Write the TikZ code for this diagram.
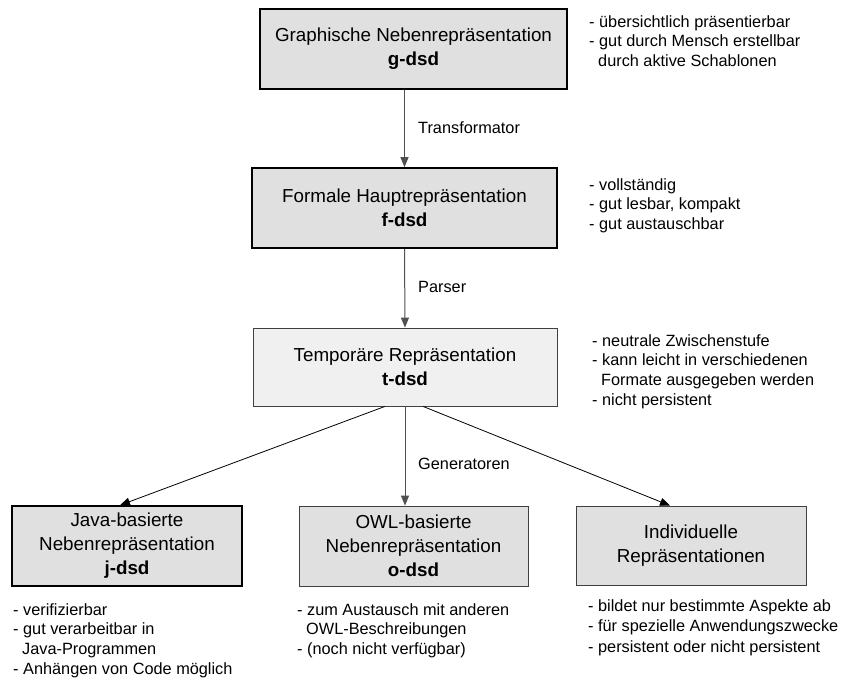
\documentclass[tikz,border=0pt]{standalone}
\usepackage{fontspec}
\setmainfont{Liberation Sans}
\usetikzlibrary{arrows.meta,calc}
\definecolor{boxfill}{HTML}{E0E0E0}
\definecolor{tfill}{HTML}{F0F0F0}
\definecolor{linegray}{HTML}{505050}
\begin{document}
\begin{tikzpicture}[x=1pt,y=-1pt,
  box/.style={draw, rectangle, fill=boxfill, align=center, inner sep=0pt,
    font=\fontsize{18.8}{24}\selectfont},
  thickbox/.style={box, line width=1.6pt, draw=black},
  thinbox/.style={box, line width=0.8pt, draw=black!75},
  note/.style={anchor=north west, align=left, inner sep=0pt,
    font=\fontsize{16.3}{19.8}\selectfont},
  lbl/.style={anchor=west, inner sep=0pt, font=\fontsize{16.3}{19.8}\selectfont},
  varrow/.style={draw=linegray, line width=1pt, -{Triangle[length=10pt,width=8pt]}},
  darrow/.style={draw=black, line width=0.8pt, -{Triangle[length=10pt,width=8pt]}}]
\useasboundingbox (0,0) rectangle (841,679);

\node[thickbox, minimum width=307, minimum height=80] (g) at (413.5,49)
  {Graphische Nebenrepräsentation\\\textbf{g-dsd}};
\node[thickbox, minimum width=305, minimum height=80] (f) at (404.5,208)
  {Formale Hauptrepräsentation\\\textbf{f-dsd}};
\node[thinbox, fill=tfill, minimum width=304, minimum height=78] (t) at (405,367)
  {Temporäre Repräsentation\\\textbf{t-dsd}};
\node[thickbox, minimum width=230, minimum height=80] (j) at (127,546)
  {Java-basierte\\Nebenrepräsentation\\\textbf{j-dsd}};
\node[thinbox, minimum width=229, minimum height=80] (o) at (413.5,546)
  {OWL-basierte\\Nebenrepräsentation\\\textbf{o-dsd}};
\node[thinbox, minimum width=230, minimum height=79] (ind) at (691,545.5)
  {Individuelle\\Repräsentationen};

\draw[varrow] (g.south -| f.north) -- (f.north);
\draw[varrow] (f.south) -- (t.north);
\draw[varrow] (t.south) -- (t.south |- o.north);
\draw[darrow] ($(t.south)+(-20,0)$) -- ($(j.north)+(-7,0)$);
\draw[darrow] ($(t.south)+(18,0)$) -- ($(ind.north)+(-21,0)$);

\node[lbl] (l1) at (418,128) {Transformator};
\node[lbl] (l2) at (418,287) {Parser};
\node[lbl] (l3) at (418,464) {Generatoren};

\node[note] (n1) at (589,15) {- übersichtlich präsentierbar\\- gut durch Mensch erstellbar\\\hspace*{9pt}durch aktive Schablonen};
\node[note] (n2) at (589,178) {- vollständig\\- gut lesbar, kompakt\\- gut austauschbar};
\node[note] (n3) at (592,334) {- neutrale Zwischenstufe\\- kann leicht in verschiedenen\\\hspace*{9pt}Formate ausgegeben werden\\- nicht persistent};
\node[note] (n4) at (13,603) {- verifizierbar\\- gut verarbeitbar in\\\hspace*{9pt}Java-Programmen\\- Anhängen von Code möglich};
\node[note] (n5) at (297,603) {- zum Austausch mit anderen\\\hspace*{9pt}OWL-Beschreibungen\\- (noch nicht verfügbar)};
\node[note, font=\fontsize{16.3}{20.8}\selectfont] (n6) at (588,599) {- bildet nur bestimmte Aspekte ab\\- für spezielle Anwendungszwecke\\- persistent oder nicht persistent};
\end{tikzpicture}
\end{document}
